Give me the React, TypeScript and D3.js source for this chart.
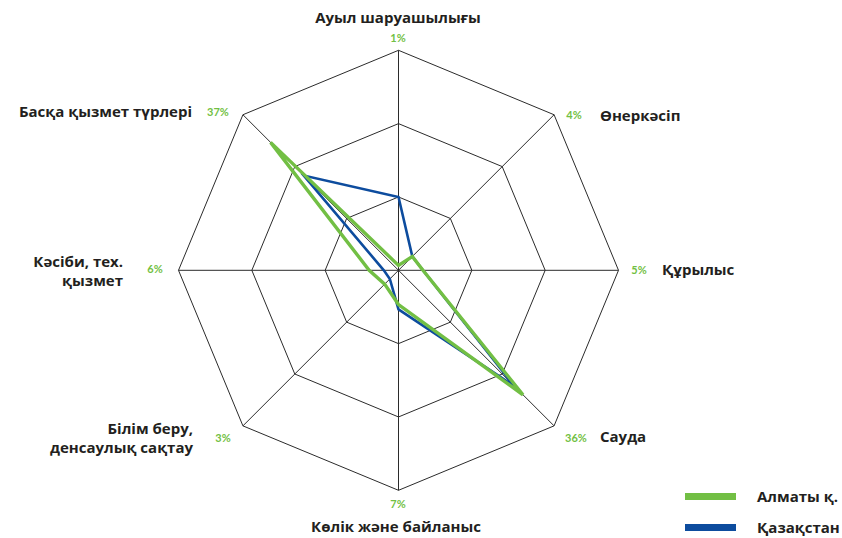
import React, { useEffect, useRef } from "react";
import * as d3 from "d3";

const sectors = [
  "Ауыл шаруашылығы",
  "Өнеркәсіп",
  "Құрылыс",
  "Сауда",
  "Көлік және байланыс",
  "Білім беру,\nденсаулық сақтау",
  "Кәсіби, тех.\nқызмет",
  "Басқа қызмет түрлері",
];
const almaty = [1, 4, 5, 36, 7, 4, 6, 37];
const almatyLabels = ["1%", "4%", "5%", "36%", "7%", "3%", "6%", "37%"];
const kazakhstan = [15, 4, 5, 33.6, 8, 2.5, 3, 27.4];
const rings = [15, 30, 45];

const GREEN = "#72bf44";
const BLUE = "#0d4c9e";
const FONT = "'Open Sans', Lato, sans-serif";
const PCT_FONT = "Lato, sans-serif";

const RadarChart = () => {
  const ref = useRef<SVGSVGElement>(null);

  useEffect(() => {
    document.body.style.margin = "0";
    const svg = d3.select(ref.current);
    svg.selectAll("*").remove();

    const cx = 398.5;
    const cy = 270.3;
    const r = d3.scaleLinear().domain([0, 45]).range([0, 220]);
    const angle = (i: number) => (i * 2 * Math.PI) / sectors.length;
    const px = (i: number, v: number) => cx + r(v) * Math.sin(angle(i));
    const py = (i: number, v: number) => cy - r(v) * Math.cos(angle(i));

    const g = svg.append("g");

    // grid rings
    rings.forEach((v) => {
      g.append("polygon")
        .attr("points", sectors.map((_, i) => `${px(i, v)},${py(i, v)}`).join(" "))
        .attr("fill", "none")
        .attr("stroke", "#2b2b2b")
        .attr("stroke-width", 1);
    });

    // spokes
    g.selectAll("line.spoke")
      .data(sectors)
      .enter()
      .append("line")
      .attr("x1", cx)
      .attr("y1", cy)
      .attr("x2", (_, i) => px(i, 45))
      .attr("y2", (_, i) => py(i, 45))
      .attr("stroke", "#2b2b2b")
      .attr("stroke-width", 1);

    const line = d3
      .lineRadial<number>()
      .angle((_, i) => angle(i))
      .radius((d) => r(d))
      .curve(d3.curveLinearClosed);

    const plot = g.append("g").attr("transform", `translate(${cx},${cy})`);
    plot
      .append("path")
      .attr("d", line(kazakhstan))
      .attr("fill", "none")
      .attr("stroke", BLUE)
      .attr("stroke-width", 2.6);
    plot
      .append("path")
      .attr("d", line(almaty))
      .attr("fill", "none")
      .attr("stroke", GREEN)
      .attr("stroke-width", 3.4);

    // sector labels: x, baseline of first line, anchor
    const labelPos: [number, number, string][] = [
      [398, 23, "middle"],
      [600, 121, "start"],
      [662, 275, "start"],
      [600, 442, "start"],
      [396, 532, "middle"],
      [193, 434, "end"],
      [123, 267, "end"],
      [192, 117, "end"],
    ];
    const pctPos: [number, number][] = [
      [398, 42],
      [574, 119],
      [639, 274],
      [576, 442],
      [398, 508],
      [223, 442],
      [155, 273],
      [218, 116],
    ];

    sectors.forEach((s, i) => {
      const [x, y, anchor] = labelPos[i];
      s.split("\n").forEach((part, k) => {
        g.append("text")
          .attr("x", x)
          .attr("y", y + k * 18.7)
          .attr("text-anchor", anchor)
          .attr("font-family", FONT)
          .attr("font-size", 15)
          .attr("font-weight", 700)
          .attr("fill", "#231f20")
          .text(part);
      });

      const [qx, qy] = pctPos[i];
      g.append("text")
        .attr("x", qx)
        .attr("y", qy)
        .attr("text-anchor", "middle")
        .attr("font-family", PCT_FONT)
        .attr("font-size", 11)
        .attr("font-weight", 700)
        .attr("fill", GREEN)
        .text(almatyLabels[i]);
    });

    // legend
    const legend = [
      { name: "Алматы қ.", color: GREEN, y: 493 },
      { name: "Қазақстан", color: BLUE, y: 524 },
    ];
    legend.forEach((d) => {
      g.append("rect")
        .attr("x", 685)
        .attr("y", d.y)
        .attr("width", 51)
        .attr("height", 7)
        .attr("fill", d.color);
      g.append("text")
        .attr("x", 757)
        .attr("y", d.y + 8.5)
        .attr("font-family", FONT)
        .attr("font-size", 15)
        .attr("font-weight", 700)
        .attr("fill", "#231f20")
        .text(d.name);
    });
  }, []);

  return <svg ref={ref} width={842} height={538} style={{ display: "block" }}></svg>;
};

export default function App() {
  return <RadarChart />;
}
